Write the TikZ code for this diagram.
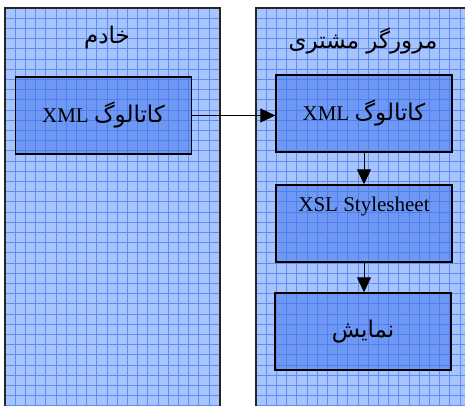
\documentclass[tikz,border=0pt]{standalone}
\usepackage{fontspec}
\setmainfont{Liberation Serif}
\newfontfamily\persian[Script=Arabic]{DejaVu Sans}
\TeXXeTstate=1
\usetikzlibrary{arrows.meta}

\definecolor{panelfill}{HTML}{A8C4FC}
\definecolor{gridmajor}{HTML}{5F8DF4}
\definecolor{boxfill}{HTML}{3F74EC}

\newcommand{\fa}[1]{{\persian\fontsize{23}{26}\selectfont\beginR #1\endR}}

\tikzset{
  panelframe/.style={draw=black!85, line width=1.6pt},
  stagebox/.style={draw=black, line width=1.4pt, fill=boxfill, fill opacity=0.55,
    text opacity=1, minimum width=176pt, minimum height=77pt, inner sep=0pt,
    font=\fontsize{21}{24}\selectfont},
  paneltitle/.style={inner sep=0pt},
  flow/.style={line width=1pt, -{Triangle[length=15pt,width=14pt]}},
}

\begin{document}
\begin{tikzpicture}[x=1pt, y=-1pt]
\useasboundingbox (0,0) rectangle (465,406);
\clip (0,0) rectangle (465,406);

% two panels: server and client browser, both running past the lower edge
\foreach \xa/\xb in {5/220, 256/480}{
  \fill[panelfill] (\xa,8) rectangle (\xb,420);
  \begin{scope}
    \clip (\xa,8) rectangle (\xb,420);
    \foreach \i in {0,...,46}{
      \draw[gridmajor, line width=0.9pt] (\xa+\i*10.2,8) -- (\xa+\i*10.2,420);
      \draw[gridmajor, line width=0.9pt] (\xa,8+\i*10.2) -- (\xb,8+\i*10.2);
    }
  \end{scope}
  \draw[panelframe] (\xa,420) -- (\xa,8) -- (\xb,8) -- (\xb,420);
}

% panel titles
\node[paneltitle] (servertitle) at (107,38) {\fa{خادم}};
\node[paneltitle] (clienttitle) at (363,41) {\fa{مرورگر مشتری}};

% processing stages
\node[stagebox] (srccat) at (103.5,115.5) {XML\ \fa{کاتالوگ}};
\node[stagebox] (dstcat) at (364,113.5) {XML\ \fa{کاتالوگ}};
\node[stagebox, label={[anchor=north, yshift=-9pt, font=\fontsize{21}{24}\selectfont]north:XSL Stylesheet}] (xsl) at (364,223.5) {};
\node[stagebox] (view) at (363,331.5) {\fa{نمایش}};

% data flow
\draw[flow] (srccat.east) -- (srccat.east -| dstcat.west);
\draw[flow] (dstcat.south) -- (xsl.north);
\draw[flow] (xsl.south) -- (view.north -| xsl.south);
\end{tikzpicture}
\end{document}
